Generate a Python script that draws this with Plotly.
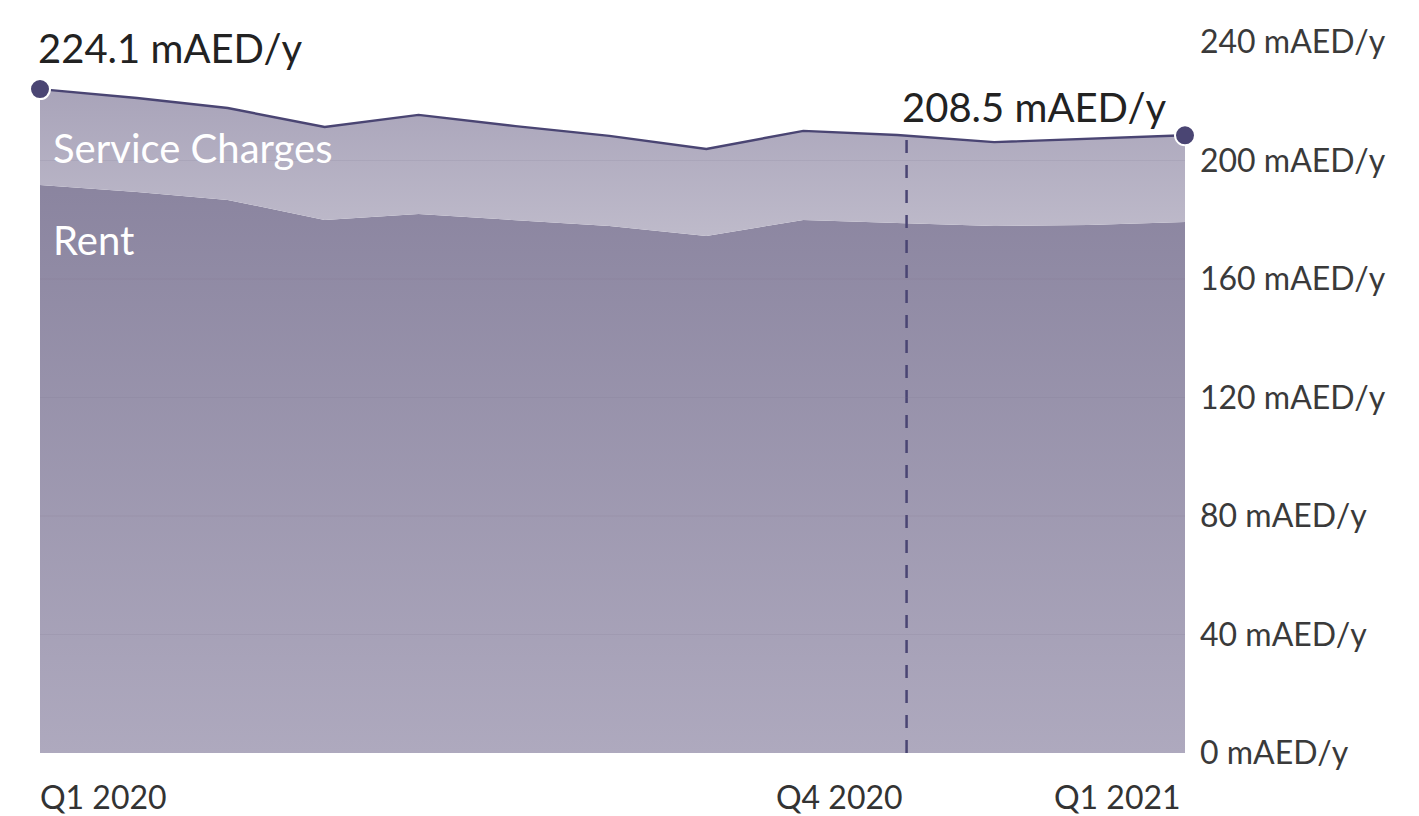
import plotly.graph_objects as go

# monthly points, Jan 2020 .. Jan 2021
months = ["2020-01-01", "2020-02-01", "2020-03-01", "2020-04-01", "2020-05-01",
          "2020-06-01", "2020-07-01", "2020-08-01", "2020-09-01", "2020-10-01",
          "2020-11-01", "2020-12-01", "2021-01-01"]
rent = [191.7, 189.4, 186.7, 179.9, 181.9, 179.9, 177.9, 174.5, 179.9, 178.9,
        177.9, 178.2, 179.2]
service_charges = [32.4, 31.7, 31.0, 31.4, 33.5, 31.7, 30.4, 29.4, 30.1, 29.7,
                   28.3, 29.1, 29.3]
total = [round(r + s, 1) for r, s in zip(rent, service_charges)]

y_ticks = [0, 40, 80, 120, 160, 200, 240]
y_tick_text = [f"{t} mAED/y" for t in y_ticks]
marker_date = "2020-10-04"
marker_value = total[9]
x_labels = [("2020-01-01", "Q1 2020", "left"),
            (marker_date, "Q4 2020", "right"),
            ("2021-01-01", "Q1 2021", "right")]

FONT = "Lato, 'Open Sans', sans-serif"
LINE = "#4a4573"

fig = go.Figure()

fig.add_trace(go.Scatter(
    x=months, y=rent, name="Rent", stackgroup="one", mode="lines",
    line=dict(width=0, color="rgba(0,0,0,0)"),
    fillgradient=dict(type="vertical", start=0, stop=195,
                      colorscale=[[0, "#aea9be"], [1, "#8a849f"]]),
))
fig.add_trace(go.Scatter(
    x=months, y=service_charges, name="Service Charges", stackgroup="one",
    mode="lines", line=dict(width=2.4, color=LINE),
    fillgradient=dict(type="vertical", start=175, stop=225,
                      colorscale=[[0, "#bebaca"], [1, "#a8a3b9"]]),
))

# endpoint dots on the total line
fig.add_trace(go.Scatter(
    x=[months[0], months[-1]], y=[total[0], total[-1]], mode="markers",
    marker=dict(size=20, color=LINE, line=dict(color="white", width=2)),
    cliponaxis=False, hoverinfo="skip",
))

# dashed marker line at Q4 2020
fig.add_shape(type="line", x0=marker_date, x1=marker_date, y0=0, y1=marker_value,
              line=dict(color=LINE, width=2.5, dash="13px,12px"), layer="above")

# faint grid lines drawn over the fill
for t in y_ticks[1:-1]:
    fig.add_shape(type="line", xref="paper", x0=0, x1=1, y0=t, y1=t,
                  line=dict(color="rgba(120,115,140,0.15)", width=1), layer="above")

fig.add_annotation(x=months[0], y=total[0], text=f"{total[0]} mAED/y",
                   xanchor="left", yanchor="bottom", xshift=-4, yshift=15,
                   showarrow=False, font=dict(size=40, color="#222", family=FONT))
fig.add_annotation(x=months[-1], y=total[-1], text=f"{total[-1]} mAED/y",
                   xanchor="right", yanchor="bottom", xshift=-16, yshift=2,
                   showarrow=False, font=dict(size=40, color="#222", family=FONT))
fig.add_annotation(x=months[0], y=rent[0], text="Service Charges",
                   xanchor="left", yanchor="bottom", xshift=11, yshift=11,
                   showarrow=False, font=dict(size=40, color="white", family=FONT))
fig.add_annotation(x=months[0], y=rent[0], text="Rent",
                   xanchor="left", yanchor="top", xshift=11, yshift=-29,
                   showarrow=False, font=dict(size=40, color="white", family=FONT))

for d, txt, anchor in x_labels:
    fig.add_annotation(x=d, y=0, text=txt, xanchor=anchor, yanchor="top",
                       yshift=-22, xshift=-2,
                       showarrow=False, font=dict(size=32, color="#333", family=FONT))

fig.update_layout(
    width=1419, height=816,
    margin=dict(l=40, r=234, t=42, b=63),
    paper_bgcolor="white", plot_bgcolor="white",
    showlegend=False,
    font=dict(family=FONT, color="#333"),
)
fig.update_xaxes(range=[months[0], months[-1]], showticklabels=False,
                 showgrid=False, zeroline=False, showline=False)
fig.update_yaxes(range=[0, 240], side="right", tickmode="array",
                 tickvals=y_ticks, ticktext=y_tick_text, ticklabelstandoff=14,
                 tickfont=dict(size=32, color="#3a3a3a", family=FONT),
                 showgrid=True, gridcolor="#ececec", gridwidth=1,
                 zeroline=False, showline=False)

# drop the default page margin so the figure sits at the window's corner
fig.write_html("out.html", config={"displayModeBar": False},
               post_script="document.body.style.margin='0';"
                           "document.body.style.overflow='hidden';")
